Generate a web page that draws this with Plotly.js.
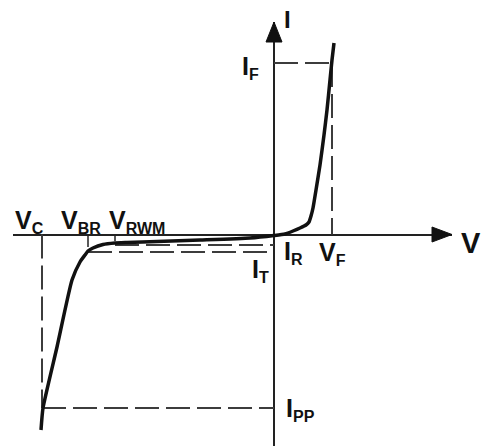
<!DOCTYPE html>
<html><head><meta charset="utf-8">
<script src="https://cdn.plot.ly/plotly-3.0.1.min.js"></script>
<style>html,body{margin:0;padding:0;background:#fff;}#c{width:487px;height:446px;}</style>
</head><body><div id="c"></div>
<script>
// Schematic TVS diode I-V characteristic (arbitrary units)
const curveV = [-23.3,-23.1,-21.7,-20.2,-19.4,-18.9,-18.6,-18.1,-17.1,-15.9,-14.7,-11.7,-7.4,-2.4,0,1.1,1.9,2.6,3.2,3.5,3.7,3.9,4.2,4.6,5.0,5.3,5.6,5.8,6.0];
const curveI = [-19.55,-17.35,-11.25,-4.55,-2.75,-2.05,-1.65,-1.35,-1.0,-0.85,-0.8,-0.7,-0.55,-0.35,-0.1,0.05,0.35,0.65,0.95,1.25,1.85,2.65,4.45,6.95,9.95,12.45,15.45,17.45,19.15];

// characteristic points
const VC = -23.2, VBR = -18.6, VRWM = -15.9, VF = 5.8;
const IF = 17.15, IPP = -17.35, IT = -1.75, IR = -1.05;
const tickVBR = -1.25, tickVRWM = -0.65;

// axis extents
const xRange = [-26.1, 17.8];
const yRange = [-21.15, 21.25];
const arrowLen = 2.0, arrowHalfX = 0.75, arrowHalfY = 0.8;

// label texts (main letter + subscript)
const labelMain = ['V','V','V','I','I','V','I','V','I','I'];
const labelSub  = ['C','BR','RWM','','F','','R','F','T','PP'];

function sub(s){ return s ? '<sub><span style="font-size:16px">' + s + '</span></sub>' : ''; }

const labels = [
  {x:-26.1, y:3.07, s:25},
  {x:-21.5, y:3.07, s:25},
  {x:-16.7, y:3.07, s:25},
  {x:0.8, y:21.1, s:24, ys:20},
  {x:-3.4, y:18.42, s:25},
  {x:17.7, y:1.0, s:29, xs:8},
  {x:0.8, y:-0.08, s:25},
  {x:4.3, y:-0.18, s:25},
  {x:-2.4, y:-1.88, s:25},
  {x:1.0, y:-15.78, s:25}
];

const dashStyle = {color:'#3c3c3c', width:2, dash:'24px,7px'};
const solidThin = {color:'#222', width:1.5};
function seg(x, y, line){ return {x:x, y:y, mode:'lines', line:line, hoverinfo:'skip', showlegend:false}; }

const traces = [
  seg([VC, VC], [0, IPP], dashStyle),
  seg([VC, 0], [IPP, IPP], dashStyle),
  seg([VBR, 0], [IT, IT], dashStyle),
  seg([VRWM, 0], [IR, IR], dashStyle),
  seg([0, VF], [IF, IF], dashStyle),
  seg([VF, VF], [IF, 0], dashStyle),
  seg([VBR, VBR], [0, tickVBR], solidThin),
  seg([VRWM, VRWM], [0, tickVRWM], solidThin),
  {x:curveV, y:curveI, mode:'lines', line:{color:'#111', width:3.5, shape:'spline', smoothing:0.5}, hoverinfo:'skip', showlegend:false},
  {x:[xRange[1], xRange[1]-arrowLen, xRange[1]-arrowLen, xRange[1]], y:[0, arrowHalfX, -arrowHalfX, 0], mode:'lines', fill:'toself', fillcolor:'#111', line:{color:'#111', width:1}, hoverinfo:'skip', showlegend:false},
  {x:[0, arrowHalfY, -arrowHalfY, 0], y:[yRange[1], yRange[1]-arrowLen, yRange[1]-arrowLen, yRange[1]], mode:'lines', fill:'toself', fillcolor:'#111', line:{color:'#111', width:1}, hoverinfo:'skip', showlegend:false}
];

const annotations = labels.map((l, i) => ({
  text:'<b>' + labelMain[i] + sub(labelSub[i]) + '</b>', x:l.x, y:l.y, xref:'x', yref:'y',
  xanchor:'left', yanchor:'top', showarrow:false, xshift:l.xs || 0, yshift:l.ys || 0,
  font:{family:'Liberation Sans, Arial, sans-serif', size:l.s, color:'#111'}
}));

const axisCommon = {showgrid:false, zeroline:true, zerolinecolor:'#222', zerolinewidth:2, showticklabels:false, ticks:'', showline:false, fixedrange:true};

const layout = {
  width:487, height:446,
  margin:{l:13, r:35, t:22, b:0, pad:0},
  paper_bgcolor:'#fff', plot_bgcolor:'#fff',
  xaxis:Object.assign({range:xRange}, axisCommon),
  yaxis:Object.assign({range:yRange}, axisCommon),
  annotations:annotations,
  showlegend:false
};

Plotly.newPlot('c', traces, layout, {staticPlot:true, displayModeBar:false});
</script></body></html>
